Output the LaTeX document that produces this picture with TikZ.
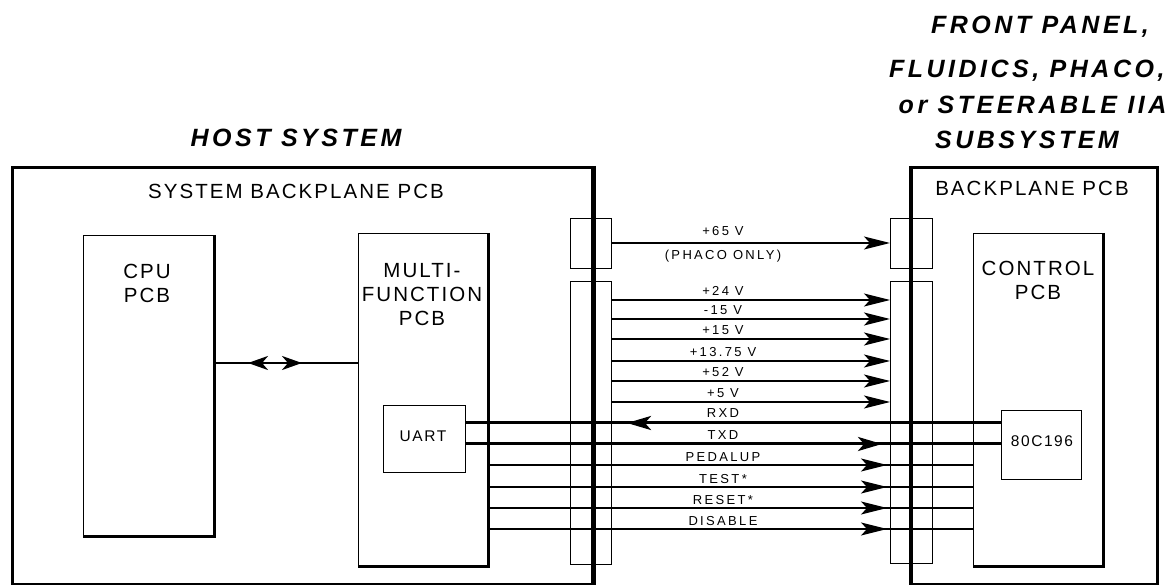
\documentclass[tikz,border=0pt]{standalone}
\usepackage{fontspec}
\setmainfont{Liberation Sans}
\newfontfamily\titlefont[LetterSpace=14]{Liberation Sans}
\newfontfamily\boxfont[LetterSpace=10]{Liberation Sans}
\newfontfamily\sigfont[LetterSpace=18]{Liberation Sans}
\usetikzlibrary{arrows.meta}
\begin{document}
\begin{tikzpicture}[x=1pt,y=-1pt,
  outerbox/.style={draw, line width=3pt, anchor=north west, inner sep=0pt},
  pcbbox/.style={draw, line width=1.2pt, anchor=north west, inner sep=0pt},
  chipbox/.style={draw, line width=1.2pt, anchor=north west, inner sep=0pt},
  conbox/.style={draw, line width=1.2pt, anchor=north west, inner sep=0pt},
  shadow/.style={line width=3pt},
  title/.style={font=\titlefont\fontsize{25}{28}\selectfont\bfseries\itshape},
  boxlabel/.style={font=\boxfont\fontsize{20.5}{24}\selectfont, align=center},
  chiplabel/.style={font=\boxfont\fontsize{15.5}{18}\selectfont},
  siglabel/.style={font=\sigfont\fontsize{13}{15}\selectfont, anchor=base},
  pline/.style={line width=1.2pt},
  tline/.style={line width=3pt},
  head/.style={-{Stealth[length=26pt,width=13pt,inset=6pt]}},
  bighead/.style={-{Stealth[length=24pt,width=14pt,inset=6pt]}}
]
\useasboundingbox (0,0) rectangle (1171,585);

% titles
\node[title] (hosttitle) at (296,138) {HOST SYSTEM};
\node[title] (t1) at (1040,27) {FRONT PANEL,};
\node[title, anchor=east] (t2) at (1168,71) {FLUIDICS, PHACO,};
\node[title, anchor=east] (t3) at (1170,105) {or STEERABLE IIA};
\node[title] (t4) at (1027,140) {SUBSYSTEM};

% outer boxes
\node[outerbox, minimum width=580pt, minimum height=417pt] (host) at (11,166) {};
\node[outerbox, minimum width=246pt, minimum height=417pt] (sub) at (910,166) {};
\node[boxlabel] (hostlab) at (296,191) {SYSTEM BACKPLANE PCB};
\node[boxlabel] (sublab) at (1032,188) {BACKPLANE PCB};

% PCBs
\node[pcbbox, minimum width=130pt, minimum height=300pt] (cpu) at (83,235) {};
\draw[shadow] (cpu.north east) -- (cpu.south east) -- (cpu.south west);
\node[boxlabel] (cpulab) at (147,283) {CPU\\PCB};

\node[pcbbox, minimum width=129pt, minimum height=332pt] (multi) at (358,233) {};
\draw[shadow] (multi.north east) -- (multi.south east) -- (multi.south west);
\node[boxlabel] (multilab) at (422,295) {MULTI-\\FUNCTION\\PCB};

\node[pcbbox, minimum width=129pt, minimum height=332pt] (ctrl) at (973,233) {};
\draw[shadow] (ctrl.north east) -- (ctrl.south east) -- (ctrl.south west);
\node[boxlabel] (ctrllab) at (1038,280) {CONTROL\\PCB};

\node[chipbox, minimum width=82pt, minimum height=67pt] (uart) at (383,405) {};
\node[chiplabel] (uartlab) at (423,436) {UART};
\node[chipbox, minimum width=80pt, minimum height=69pt] (ic) at (1001,410) {};
\node[chiplabel] (iclab) at (1042,441) {80C196};

% connectors
\node[conbox, minimum width=41pt, minimum height=50pt] (lconA) at (570,218) {};
\node[conbox, minimum width=41pt, minimum height=283pt] (lconB) at (570,281) {};
\node[conbox, minimum width=42pt, minimum height=50pt] (rconA) at (890,218) {};
\node[conbox, minimum width=42pt, minimum height=282pt] (rconB) at (890,281) {};

% CPU <-> multifunction
\coordinate (mid) at (274,363);
\draw[line width=2.5pt] (cpu.east |- mid) -- (multi.west |- mid);
\draw[line width=2.5pt, -{Stealth[length=20pt,width=14pt,inset=6pt]}] (mid) -- (248,363);
\draw[line width=2.5pt, -{Stealth[length=20pt,width=14pt,inset=6pt]}] (mid) -- (302,363);

% +65 V
\coordinate (y0) at (0,243);
\draw[line width=2pt, head] (lconA.east |- y0) -- (rconA.west |- y0);
\node[siglabel] at (723,236) {+65 V};
\node[siglabel] at (723,260) {(PHACO ONLY)};

% power lines
\foreach \yy/\txt/\w in {300/+24 V/1.2, 319/-15 V/2, 339/+15 V/1.2, 361/+13.75 V/1.2, 381/+52 V/1.2, 402/+5 V/1.2}{
  \coordinate (p) at (0,\yy);
  \draw[line width=\w pt, head] (lconB.east |- p) -- (rconB.west |- p);
  \node[siglabel] at (723,\yy-4) {\txt};
}

% RXD / TXD
\coordinate (rx) at (0,423);
\coordinate (tx) at (0,444);
\draw[tline] (uart.east |- rx) -- (ic.west |- rx);
\draw[tline] (uart.east |- tx) -- (ic.west |- tx);
\draw[tline, bighead] (655,423) -- (627,423);
\draw[tline, bighead] (852,444) -- (882,444);
\node[siglabel] at (723,418) {RXD};
\node[siglabel] at (723,439) {TXD};

% control lines
\foreach \yy/\txt in {465/PEDALUP, 487/TEST*, 508/RESET*, 529/DISABLE}{
  \coordinate (p) at (0,\yy);
  \draw[pline] (multi.east |- p) -- (ctrl.west |- p);
  \draw[pline, head] (857,\yy) -- (887,\yy);
  \node[siglabel] at (723,\yy-4) {\txt};
}

% thick box edges through connectors
\draw[line width=3pt] (host.north east) -- (host.south east);
\draw[line width=3pt] (sub.north west) -- (sub.south west);
\end{tikzpicture}
\end{document}
